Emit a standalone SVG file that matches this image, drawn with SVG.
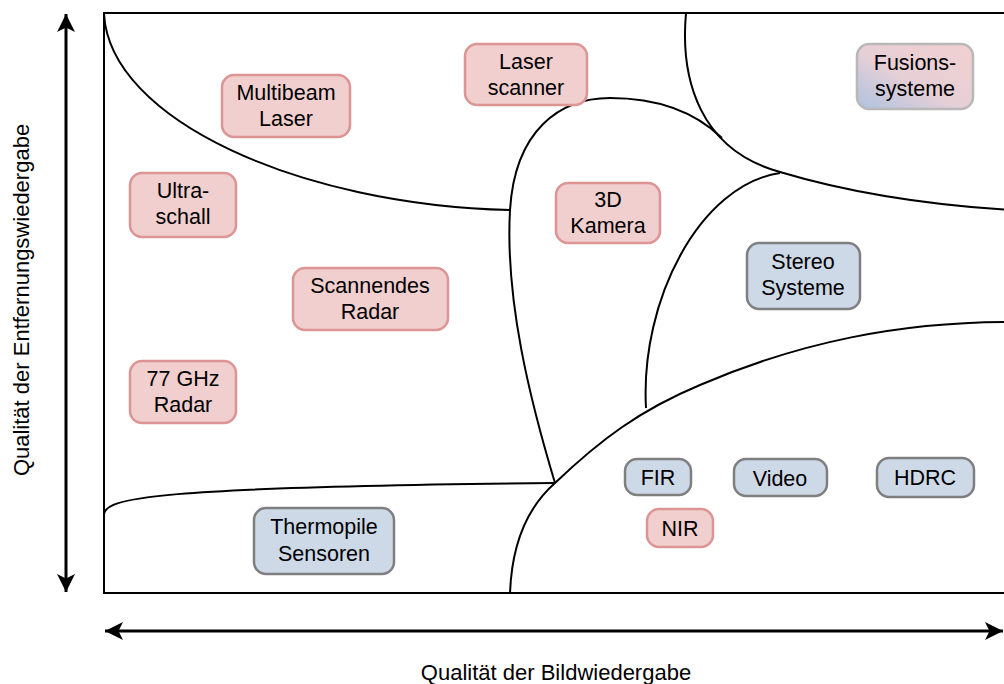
<svg xmlns="http://www.w3.org/2000/svg" width="1004" height="684" viewBox="0 0 1004 684">
  <defs>
    <marker id="arrow" viewBox="0 0 10 10" refX="10" refY="5" markerWidth="6" markerHeight="6" orient="auto-start-reverse" markerUnits="strokeWidth">
      <path d="M0,0 L10,5 L0,10 L2.5,5 Z" fill="#000"/>
    </marker>
    <linearGradient id="fusion" x1="0" y1="1" x2="1" y2="0">
      <stop offset="0" stop-color="#adc3e0"/>
      <stop offset="0.45" stop-color="#e6cfd6"/>
      <stop offset="1" stop-color="#f2d0d0"/>
    </linearGradient>
    <style>
      .frame { fill: none; stroke: #000; stroke-width: 2; }
      .axis { fill: none; stroke: #000; stroke-width: 3; }
      .red rect { fill: #f1cfcf; stroke: #dc9494; stroke-width: 2.5; }
      .blue rect { fill: #cdd9e7; stroke: #7f7f7f; stroke-width: 2.5; }
      .mix rect { fill: url(#fusion); stroke: #b8b8b8; stroke-width: 2.5; }
      text { font-family: "Liberation Sans", Arial, sans-serif; font-size: 21.5px; fill: #000; text-anchor: middle; }
      .label { font-size: 22px; }
    </style>
  </defs>
  <rect width="1004" height="684" fill="#fff"/>

  <!-- axes -->
  <g id="axes">
    <line class="axis" x1="66" y1="14" x2="66" y2="592" marker-start="url(#arrow)" marker-end="url(#arrow)"/>
    <line class="axis" x1="105" y1="631" x2="1003" y2="631" marker-start="url(#arrow)" marker-end="url(#arrow)"/>
    <text class="label" transform="translate(29,300) rotate(-90)">Qualität der Entfernungswiedergabe</text>
    <text class="label" x="556" y="680">Qualität der Bildwiedergabe</text>
  </g>

  <!-- frame and region boundaries -->
  <g id="connectors">
    <path class="frame" d="M1010,13 H104 V593 H1010"/>
    <path class="frame" d="M104,14 C110,120 300,205 510,210"/>
    <path class="frame" d="M686,13 C680,80 700,150 780,172 C850,193 930,205 1010,210"/>
    <path class="frame" d="M555,483 C530,400 505,300 510,210 C515,130 560,98 610,98 C660,98 695,112 722,138"/>
    <path class="frame" d="M780,173 C700,185 640,300 646,408"/>
    <path class="frame" d="M510,593 C512,540 530,505 555,483 C600,440 640,410 700,385 C800,342 900,322 1010,322"/>
    <path class="frame" d="M104,515 C104,498 150,487 555,483"/>
  </g>

  <g id="multibeam" class="red"><rect x="222" y="75" width="128" height="62" rx="12"/><text x="286" y="100">Multibeam</text><text x="286" y="126">Laser</text></g>
  <g id="laserscanner" class="red"><rect x="465" y="44" width="122" height="61" rx="12"/><text x="526" y="69">Laser</text><text x="526" y="95">scanner</text></g>
  <g id="fusion" class="mix"><rect x="857" y="44" width="116" height="65" rx="12"/><text x="915" y="70">Fusions-</text><text x="915" y="96">systeme</text></g>
  <g id="ultraschall" class="red"><rect x="130" y="173" width="106" height="64" rx="12"/><text x="183" y="198">Ultra-</text><text x="183" y="224">schall</text></g>
  <g id="kamera3d" class="red"><rect x="556" y="183" width="104" height="60" rx="12"/><text x="608" y="207">3D</text><text x="608" y="233">Kamera</text></g>
  <g id="stereo" class="blue"><rect x="747" y="243" width="113" height="66" rx="12"/><text x="803" y="269">Stereo</text><text x="803" y="295">Systeme</text></g>
  <g id="radar" class="red"><rect x="293" y="268" width="155" height="62" rx="12"/><text x="370" y="293">Scannendes</text><text x="370" y="319">Radar</text></g>
  <g id="radar77" class="red"><rect x="130" y="361" width="106" height="62" rx="12"/><text x="183" y="386">77 GHz</text><text x="183" y="412">Radar</text></g>
  <g id="fir" class="blue"><rect x="625" y="459" width="66" height="36" rx="12"/><text x="658" y="485">FIR</text></g>
  <g id="video" class="blue"><rect x="734" y="459" width="93" height="37" rx="12"/><text x="780" y="486">Video</text></g>
  <g id="hdrc" class="blue"><rect x="877" y="458" width="97" height="39" rx="12"/><text x="925" y="485">HDRC</text></g>
  <g id="nir" class="red"><rect x="647" y="509" width="66" height="38" rx="12"/><text x="680" y="536">NIR</text></g>
  <g id="thermopile" class="blue"><rect x="254" y="508" width="140" height="66" rx="12"/><text x="324" y="534">Thermopile</text><text x="324" y="561">Sensoren</text></g>
</svg>
